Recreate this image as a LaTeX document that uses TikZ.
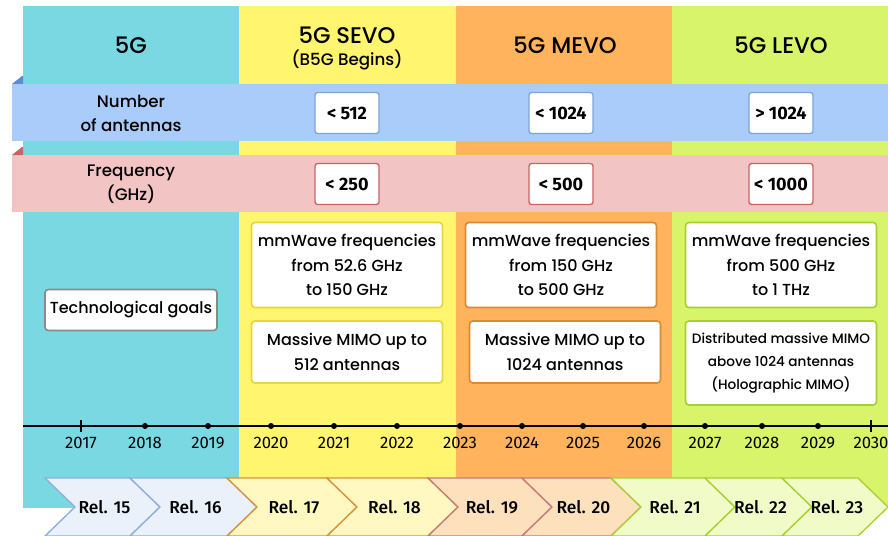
\documentclass[tikz,border=0pt]{standalone}
\usepackage{fontspec}
\setmainfont{Poppins Medium}
\newfontfamily\yearfont{Fira Sans}
\newfontfamily\relfont{Fira Sans Medium}
\usetikzlibrary{positioning}

\definecolor{colCyan}{HTML}{7AD8E3}
\definecolor{colYellow}{HTML}{FFF56E}
\definecolor{colOrange}{HTML}{FFB35C}
\definecolor{colGreen}{HTML}{D8F46A}
\definecolor{bandBlue}{HTML}{AACCFA}
\definecolor{foldBlue}{HTML}{5B8BD0}
\definecolor{bandPink}{HTML}{F2C4C4}
\definecolor{foldPink}{HTML}{C86464}
\definecolor{edgeBlue}{HTML}{7FA4D8}
\definecolor{edgeRed}{HTML}{C86464}
\definecolor{edgeYellow}{HTML}{E6D63A}
\definecolor{edgeOrange}{HTML}{D98A30}
\definecolor{edgeGreen}{HTML}{A8D030}
\definecolor{edgeGray}{HTML}{8A8A8A}
\definecolor{relBlue}{HTML}{EAF1FA}
\definecolor{relYellow}{HTML}{FFF8C0}
\definecolor{relPeach}{HTML}{FDE0BC}
\definecolor{relGreen}{HTML}{F0FBC8}
\definecolor{relEdgeBlue}{HTML}{8FAEDC}
\definecolor{relEdgeOrange}{HTML}{D9923A}
\definecolor{relEdgePink}{HTML}{C87A7A}

\begin{document}
\begin{tikzpicture}
[x=0.75pt,y=-0.75pt,
  headDecorate/.style={font=\fontsize{17}{19}\selectfont,align=center},%
  subDecorate/.style={font=\fontsize{12.5}{14}\selectfont},%
  rowDecorate/.style={font=\fontsize{12.5}{18}\selectfont,align=center},%
  valueDecorate/.style={draw,fill=white,rounded corners=2pt,line width=1pt,
    minimum width=48pt,minimum height=30.75pt,inner sep=0pt,
    font=\yearfont\bfseries\fontsize{13.5}{15}\selectfont},%
  goalDecorate/.style={draw,fill=white,rounded corners=2.5pt,line width=1.2pt,
    minimum width=143.25pt,inner sep=0pt,align=center,
    font=\fontsize{12}{18.5}\selectfont},%
  yearDecorate/.style={font=\yearfont\fontsize{12.5}{14}\selectfont},%
  relDecorate/.style={font=\relfont\fontsize{13}{14}\selectfont},%
  lineDecorate/.style={-,line width=1pt}]
\useasboundingbox (0,0) rectangle (888,535);
%% phase columns
\foreach \xa/\xb/\colname in {
  23/239/colCyan, 239/456/colYellow, 456/672/colOrange, 672/888/colGreen}
{
  \fill[\colname] (\xa,6) rectangle (\xb,508);
}
%% rows
\fill[bandBlue] (12,84) rectangle (888,141);
\fill[foldBlue] (12,84) -- (22,76) -- (23,76) -- (23,84) -- cycle;
\fill[bandPink] (12,155) rectangle (888,212);
\fill[foldPink] (12,155) -- (22,147) -- (23,147) -- (23,155) -- cycle;
%% headings
\node (h5g) at (131,45) [headDecorate] {5G};
\node (hsevo) at (347,35) [headDecorate] {5G SEVO};
\node (hsevosub) at (347,60) [subDecorate] {(B5G Begins)};
\node (hmevo) at (565,45) [headDecorate] {5G MEVO};
\node (hlevo) at (781,45) [headDecorate] {5G LEVO};
\node (rowant) at (131,113) [rowDecorate] {Number\\of antennas};
\node (rowfreq) at (131,184) [rowDecorate] {Frequency\\(GHz)};
%% value boxes
\foreach \nodename/\x/\y/\edge/\val in {
  ant1/347/113/edgeBlue/{< 512}, ant2/561/113/edgeBlue/{< 1024},
  ant3/781/113/edgeBlue/{> 1024},
  freq1/347/184/edgeRed/{< 250}, freq2/561/184/edgeRed/{< 500},
  freq3/781/184/edgeRed/{< 1000}}
{
  \node (\nodename) at (\x,\y) [valueDecorate,draw=\edge] {\val};
}
%% goals
\node (goals) at (131,310) [goalDecorate,draw=edgeGray,minimum width=129pt,
  minimum height=30.75pt] {Technological goals};
\node (wave1) at (347,265) [goalDecorate,draw=edgeYellow,minimum height=63.75pt]
  {mmWave frequencies\\from 52.6 GHz\\to 150 GHz};
\node (mimo1) at (347,352) [goalDecorate,draw=edgeYellow,minimum height=46.5pt]
  {Massive MIMO up to\\512 antennas};
\node (wave2) at (561,265) [goalDecorate,draw=edgeOrange,minimum height=63.75pt]
  {mmWave frequencies\\from 150 GHz\\to 500 GHz};
\node (mimo2) at (565,352) [goalDecorate,draw=edgeOrange,minimum height=46.5pt]
  {Massive MIMO up to\\1024 antennas};
\node (wave3) at (781,265) [goalDecorate,draw=edgeGreen,minimum height=63.75pt]
  {mmWave frequencies\\from 500 GHz\\to 1 THz};
\node (mimo3) at (781,363) [goalDecorate,draw=edgeGreen,minimum height=63pt,
  font=\fontsize{10.2}{17}\selectfont]
  {Distributed massive MIMO\\above 1024 antennas\\(Holographic MIMO)};
%% timeline
\coordinate (tlstart) at (23,426);
\coordinate (tlend) at (888,426);
\draw[lineDecorate] (tlstart) -- (tlend);
\foreach \year/\x in {
  2018/145, 2019/208, 2020/271, 2021/334, 2022/397, 2023/460,
  2024/522, 2025/583, 2026/644, 2027/705, 2028/762, 2029/818}
{
  \node (t\year) at (\x,426) [circle,fill,inner sep=0pt,minimum size=4.5pt] {};
  \node (l\year) at (\x,443) [yearDecorate] {\year};
}
\foreach \year/\x in {2017/81, 2030/871}
{
  \coordinate (t\year) at (\x,426);
  \draw[lineDecorate] ([yshift=4.5pt]t\year) -- ([yshift=-4.5pt]t\year);
  \node (l\year) at (\x,443) [yearDecorate] {\year};
}
%% releases
\foreach \rel/\xl/\xr/\fillname/\edge in {
  15/45/130/relBlue/relEdgeBlue, 16/130/227/relBlue/relEdgeBlue,
  17/227/327/relYellow/relEdgeOrange, 18/327/428/relYellow/relEdgeOrange,
  19/428/522/relPeach/relEdgePink, 20/522/611/relPeach/relEdgePink,
  21/611/705/relGreen/edgeGreen, 22/705/782/relGreen/edgeGreen,
  23/782/858/relGreen/edgeGreen}
{
  \filldraw[fill=\fillname,draw=\edge,line width=1pt]
    (\xl,478) -- (\xr,478) -- ({\xr+30},507) -- (\xr,536)
    -- (\xl,536) -- ({\xl+30},507) -- cycle;
  \node (rel\rel) at ({(\xl+\xr)/2+17},507) [relDecorate] {Rel. \rel};
}
\end{tikzpicture}
\end{document}
